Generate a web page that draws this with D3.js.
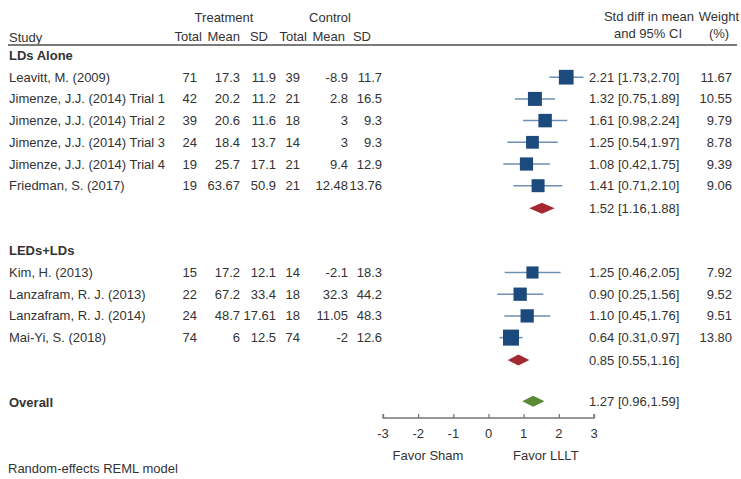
<!DOCTYPE html>
<html><head><meta charset="utf-8">
<script src="https://cdn.jsdelivr.net/npm/d3@7"></script>
<style>
html,body{margin:0;padding:0;background:#fff;}
svg text{font-family:"Liberation Sans",Arial,sans-serif;font-size:13px;fill:#333;}
</style></head>
<body><svg id="c" width="741" height="479"></svg>
<script>
// ---- data ----
const groups = ["LDs Alone", "LEDs+LDs"];
const studies = [
  "Leavitt, M. (2009)", "Jimenze, J.J. (2014) Trial 1", "Jimenze, J.J. (2014) Trial 2",
  "Jimenze, J.J. (2014) Trial 3", "Jimenze, J.J. (2014) Trial 4", "Friedman, S. (2017)",
  "Kim, H. (2013)", "Lanzafram, R. J. (2013)", "Lanzafram, R. J. (2014)", "Mai-Yi, S. (2018)"
];
const studyGroup = [0,0,0,0,0,0,1,1,1,1];
const trtTotal = [71, 42, 39, 24, 19, 19, 15, 22, 24, 74];
const trtMean  = [17.3, 20.2, 20.6, 18.4, 25.7, 63.67, 17.2, 67.2, 48.7, 6];
const trtSD    = [11.9, 11.2, 11.6, 13.7, 17.1, 50.9, 12.1, 33.4, 17.61, 12.5];
const ctlTotal = [39, 21, 18, 14, 21, 21, 14, 18, 18, 74];
const ctlMean  = [-8.9, 2.8, 3, 3, 9.4, 12.48, -2.1, 32.3, 11.05, -2];
const ctlSD    = [11.7, 16.5, 9.3, 9.3, 12.9, 13.76, 18.3, 44.2, 48.3, 12.6];
const smd      = [2.21, 1.32, 1.61, 1.25, 1.08, 1.41, 1.25, 0.90, 1.10, 0.64];
const ciLow    = [1.73, 0.75, 0.98, 0.54, 0.42, 0.71, 0.46, 0.25, 0.45, 0.31];
const ciHigh   = [2.70, 1.89, 2.24, 1.97, 1.75, 2.10, 2.05, 1.56, 1.76, 0.97];
const weights  = [11.67, 10.55, 9.79, 8.78, 9.39, 9.06, 7.92, 9.52, 9.51, 13.80];
const subEst   = [1.52, 0.85];
const subLow   = [1.16, 0.55];
const subHigh  = [1.88, 1.16];
const overall  = {label: "Overall", est: 1.27, low: 0.96, high: 1.59};
const axisTicks = [-3, -2, -1, 0, 1, 2, 3];
const favorLabels = ["Favor Sham", "Favor LLLT"];
const footnote = "Random-effects REML model";

// ---- layout ----
const svg = d3.select("#c");
svg.append("rect").attr("width",741).attr("height",479).attr("fill","#fff");
const x = d3.scaleLinear().domain([-3, 3]).range([383, 594]);
const rowY = d3.scaleLinear().domain([0, 1]).range([55.5, 77.2]);
const sz = d3.scaleSqrt().domain([0, d3.max(weights)]).range([0, 16]);
const NAVY = "#1c4a7c", LINE = "#6f8fb5", RED = "#a3282f", GREEN = "#5a8a34";
const LBL = "13.6px", EST = "13.8px";

// header
const hdr = svg.append("g");
hdr.append("text").attr("x",224).attr("y",17).attr("text-anchor","middle").attr("dy","0.35em").text("Treatment");
hdr.append("text").attr("x",330).attr("y",17).attr("text-anchor","middle").attr("dy","0.35em").text("Control");
hdr.append("text").attr("x",9).attr("y",37.5).attr("dy","0.35em").attr("font-size",LBL).text("Study");
const colHdr = ["Total","Mean","SD","Total","Mean","SD"];
const colHdrX = [202, 240, 268, 307, 345, 371];
colHdr.forEach((t,i)=>hdr.append("text").attr("x",colHdrX[i]).attr("y",36.5).attr("text-anchor","end").attr("dy","0.35em").text(t));
hdr.append("text").attr("x",694).attr("y",16).attr("text-anchor","end").attr("dy","0.35em").text("Std diff in mean");
hdr.append("text").attr("x",682).attr("y",33.5).attr("text-anchor","end").attr("dy","0.35em").text("and 95% CI");
hdr.append("text").attr("x",739).attr("y",16).attr("text-anchor","end").attr("dy","0.35em").text("Weight");
hdr.append("text").attr("x",719).attr("y",33.5).attr("text-anchor","middle").attr("dy","0.35em").text("(%)");
hdr.append("line").attr("x1",8).attr("x2",737).attr("y1",45).attr("y2",45).attr("stroke","#7a7a7a").attr("stroke-width",2);

// build rows
const dataColX = [197, 240, 276, 300, 348, 382];
let r = 0;
const rows = [];
groups.forEach((g, gi) => {
  rows.push({type:"group", label:g, row:r++});
  studies.forEach((s, i) => {
    if (studyGroup[i] === gi) rows.push({type:"study", i, row:r++});
  });
  rows.push({type:"sub", gi, row:r++});
  r += 1;
});
rows.push({type:"overall", row:r});

const body = svg.append("g");
rows.forEach(d => {
  const y = rowY(d.row);
  if (d.type === "group" || d.type === "overall") {
    body.append("text").attr("x",9).attr("y",y).attr("dy","0.35em").attr("font-size",LBL).attr("font-weight","bold").text(d.type==="group"?d.label:overall.label);
  }
  if (d.type === "study") {
    const i = d.i;
    body.append("text").attr("x",9).attr("y",y).attr("dy","0.35em").attr("font-size",LBL).text(studies[i]);
    const vals = [trtTotal[i], trtMean[i], trtSD[i], ctlTotal[i], ctlMean[i], ctlSD[i]];
    vals.forEach((v,k)=>body.append("text").attr("x",dataColX[k]).attr("y",y).attr("dy","0.35em").attr("text-anchor","end").text(String(v)));
    body.append("line").attr("x1",x(ciLow[i])).attr("x2",x(ciHigh[i])).attr("y1",y).attr("y2",y).attr("stroke",LINE).attr("stroke-width",1.5);
    const s = sz(weights[i]);
    body.append("rect").attr("x",x(smd[i])-s/2).attr("y",y-s/2).attr("width",s).attr("height",s).attr("fill",NAVY);
    body.append("text").attr("x",589).attr("y",y).attr("dy","0.35em").attr("font-size",EST).text(`${smd[i].toFixed(2)} [${ciLow[i].toFixed(2)},${ciHigh[i].toFixed(2)}]`);
    body.append("text").attr("x",732).attr("y",y).attr("dy","0.35em").attr("text-anchor","end").attr("font-size",EST).text(weights[i].toFixed(2));
  }
  if (d.type === "sub" || d.type === "overall") {
    const est = d.type==="sub"?subEst[d.gi]:overall.est;
    const lo = d.type==="sub"?subLow[d.gi]:overall.low;
    const hi = d.type==="sub"?subHigh[d.gi]:overall.high;
    const yy = d.type==="overall" ? y - 1.5 : y + 0.8;
    const h = 5.5;
    body.append("path").attr("d",`M${x(lo)},${yy}L${x(est)},${yy-h}L${x(hi)},${yy}L${x(est)},${yy+h}Z`)
      .attr("fill", d.type==="sub"?RED:GREEN);
    body.append("text").attr("x",589).attr("y",yy).attr("dy","0.35em").attr("font-size",EST).text(`${est.toFixed(2)} [${lo.toFixed(2)},${hi.toFixed(2)}]`);
  }
});

// axis
const ax = svg.append("g").attr("transform","translate(0,418)");
ax.call(d3.axisTop(x).tickValues(axisTicks).tickSize(4).tickFormat(""));
ax.select(".domain").attr("stroke","#777").attr("stroke-width",1.3).attr("d",`M${x(-3)},-4V0H${x(3)}V-4`);
ax.selectAll(".tick line").attr("stroke","#777").attr("stroke-width",1.3);
axisTicks.forEach(t=>svg.append("text").attr("x",x(t)).attr("y",433).attr("dy","0.35em").attr("text-anchor","middle").attr("font-size","13.5px").text(String(t)));
svg.append("text").attr("x",x(-1.72)).attr("y",455).attr("dy","0.35em").attr("text-anchor","middle").attr("font-size","12px").text(favorLabels[0]);
svg.append("text").attr("x",x(1.63)).attr("y",455).attr("dy","0.35em").attr("text-anchor","middle").attr("font-size","12px").text(favorLabels[1]);
svg.append("text").attr("x",8).attr("y",468).attr("dy","0.35em").attr("font-size","13.6px").text(footnote);
</script></body></html>
